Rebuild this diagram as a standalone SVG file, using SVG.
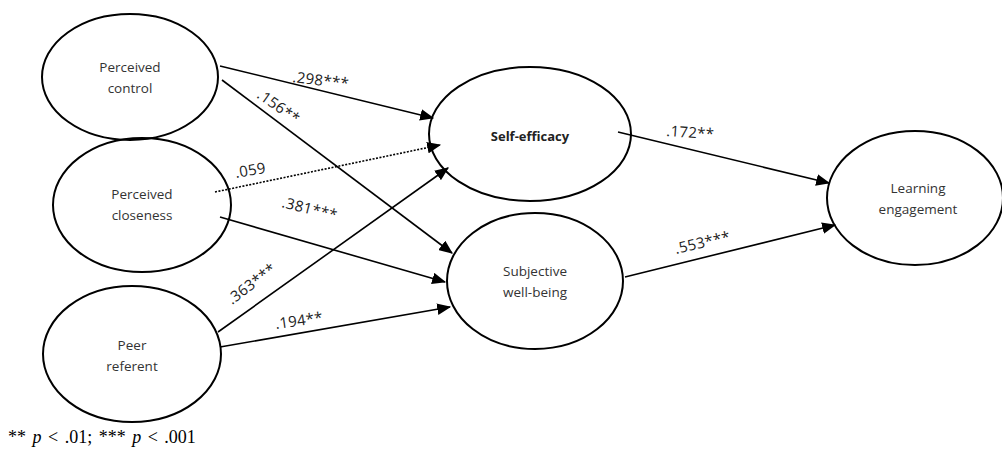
<svg xmlns="http://www.w3.org/2000/svg" width="1002" height="450" viewBox="0 0 1002 450">
<style>
.node ellipse{fill:none;stroke:#000;stroke-width:2}
.nt{font-family:"Open Sans","Liberation Sans",sans-serif;font-size:13.5px;fill:#333;text-anchor:middle}
.bold{font-weight:bold;fill:#222;font-size:13px}
.edge{stroke:#000;stroke-width:1.6;fill:none;marker-end:url(#ah)}
.dot{stroke-dasharray:2 1.5}
.lb{font-family:"Open Sans","Liberation Sans",sans-serif;font-size:15px;fill:#222;letter-spacing:0.3px}
.fn{font-family:"Liberation Serif",serif;font-size:18px;fill:#000;word-spacing:2px}
</style>
<defs>
<marker id="ah" viewBox="0 0 12 10" refX="11" refY="5" markerWidth="14" markerHeight="12" markerUnits="userSpaceOnUse" orient="auto">
<path d="M0,0 L12,5 L0,10 z" fill="#000"/>
</marker>
</defs>
<rect width="1002" height="450" fill="#fff"/>
<g id="n-control" class="node"><ellipse cx="130" cy="77" rx="88" ry="63"/><text class="nt" x="130" y="72">Perceived</text><text class="nt" x="130" y="93">control</text></g>
<g id="n-closeness" class="node"><ellipse cx="142" cy="205" rx="89" ry="67"/><text class="nt" x="142" y="199">Perceived</text><text class="nt" x="142" y="220">closeness</text></g>
<g id="n-peer" class="node"><ellipse cx="132" cy="354" rx="89" ry="68"/><text class="nt" x="132" y="350">Peer</text><text class="nt" x="132" y="371">referent</text></g>
<g id="n-selfeff" class="node"><ellipse cx="530" cy="134" rx="101" ry="67"/><text class="nt bold" x="530" y="141">Self-efficacy</text></g>
<g id="n-swb" class="node"><ellipse cx="535" cy="281" rx="88" ry="68"/><text class="nt" x="535" y="276">Subjective</text><text class="nt" x="535" y="297">well-being</text></g>
<g id="n-le" class="node"><ellipse cx="915" cy="198" rx="88" ry="67"/><text class="nt" x="918" y="193">Learning</text><text class="nt" x="918" y="214">engagement</text></g>
<g id="connectors">
<line class="edge" x1="220" y1="66" x2="433" y2="118"/>
<line class="edge" x1="222" y1="80" x2="452" y2="253"/>
<line class="edge dot" x1="215" y1="192" x2="440" y2="145"/>
<line class="edge" x1="220" y1="217" x2="445" y2="282"/>
<line class="edge" x1="218" y1="332" x2="448" y2="168"/>
<line class="edge" x1="220" y1="347" x2="450" y2="307"/>
<line class="edge" x1="618" y1="132" x2="829" y2="183"/>
<line class="edge" x1="625" y1="277" x2="835" y2="225"/>
</g>
<g id="labels">
<text class="lb" transform="translate(292,82) rotate(7)">.298***</text>
<text class="lb" transform="translate(256,97) rotate(35)">.156**</text>
<text class="lb" transform="translate(236,178) rotate(-10)">.059</text>
<text class="lb" transform="translate(281,207) rotate(14)">.381***</text>
<text class="lb" transform="translate(232,305) rotate(-37)">.363***</text>
<text class="lb" transform="translate(276,329) rotate(-8)">.194**</text>
<text class="lb" transform="translate(666,136) rotate(4)">.172**</text>
<text class="lb" transform="translate(676,254) rotate(-13)">.553***</text>
</g>
<text class="fn" x="8" y="443">** <tspan font-style="italic">p</tspan> &lt; .01; *** <tspan font-style="italic">p</tspan> &lt; .001</text>
</svg>
